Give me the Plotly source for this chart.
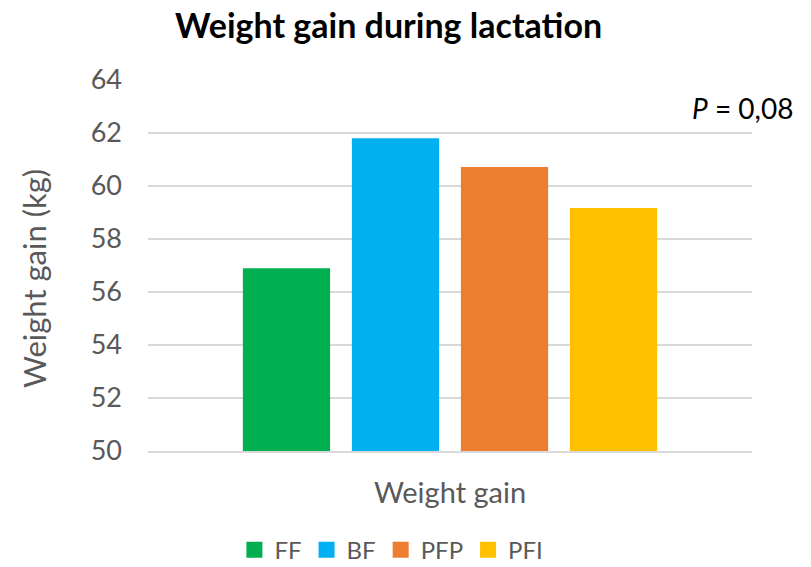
import plotly.graph_objects as go

# data
groups = ["FF", "BF", "PFP", "PFI"]
weight_gain = [56.9, 61.8, 60.72, 59.17]
colors = ["#00b050", "#00b0f0", "#ed7d31", "#ffc000"]
category = ["Weight gain"]

fig = go.Figure()
for name, val, col in zip(groups, weight_gain, colors):
    fig.add_trace(go.Bar(
        x=category,
        y=[val],
        name=name,
        marker=dict(color=col, line=dict(width=0)),
        showlegend=False,
    ))
    # legend entry with a bigger square swatch
    fig.add_trace(go.Scatter(
        x=[None], y=[None],
        mode="markers",
        name=name,
        marker=dict(symbol="square", size=17, color=col),
    ))

# page body has an 8px margin, so the figure is 8px smaller
fig.update_layout(
    width=803,
    height=559,
    paper_bgcolor="white",
    plot_bgcolor="white",
    font=dict(family="Lato, Open Sans, sans-serif", color="#595959"),
    title=dict(
        text="<b>Weight gain during lactation</b>",
        x=0.474, xanchor="center", y=0.968, yanchor="middle",
        font=dict(size=34, color="black"),
    ),
    margin=dict(l=140, r=59, t=72, b=116),
    barmode="group",
    bargap=0.278,
    bargroupgap=0.2,
    showlegend=True,
    legend=dict(
        orientation="h",
        xref="paper", x=0.403, xanchor="center",
        yref="container", y=0.03, yanchor="middle",
        font=dict(size=24, color="#595959"),
        itemwidth=30,
    ),
    annotations=[
        dict(
            text="<i>P</i> = 0,08",
            x=1.072, y=0.924, xref="paper", yref="paper",
            xanchor="right", yanchor="middle",
            showarrow=False,
            font=dict(size=28, color="black"),
        ),
        # y axis title, placed by hand to sit a bit below centre like the original
        dict(
            text="Weight gain (kg)",
            x=-0.189, y=0.466, xref="paper", yref="paper",
            xanchor="center", yanchor="middle",
            textangle=-90,
            showarrow=False,
            font=dict(size=31, color="#595959"),
        ),
    ],
)

fig.update_yaxes(
    range=[50, 64],
    dtick=2,
    showgrid=True,
    gridcolor="#d9d9d9",
    gridwidth=1.5,
    zeroline=False,
    tickfont=dict(size=27, color="#595959"),
    ticklabelstandoff=25,
    ticks="",
    automargin=False,
)
fig.update_xaxes(
    showline=True,
    linecolor="#d9d9d9",
    linewidth=1.5,
    showticklabels=False,
    title=dict(text="Weight gain", font=dict(size=29, color="#595959"), standoff=31),
    automargin=False,
)

fig.write_html("out.html")
